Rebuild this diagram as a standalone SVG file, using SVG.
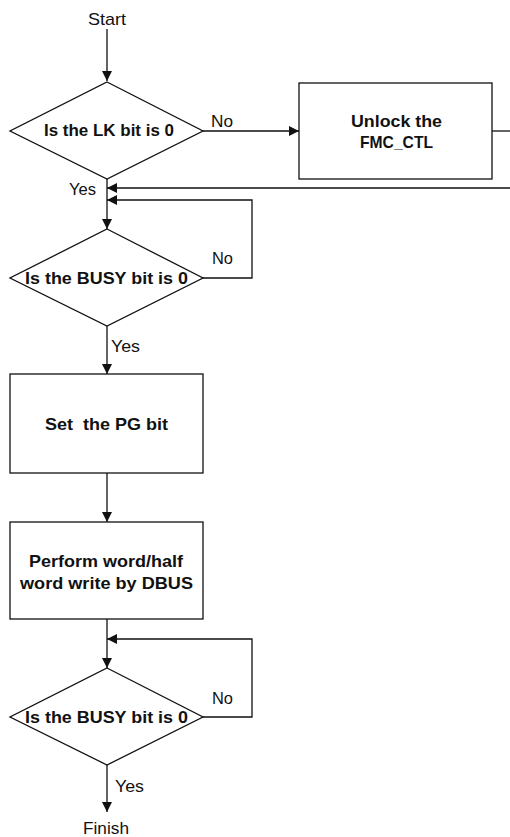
<svg xmlns="http://www.w3.org/2000/svg" width="510" height="837" viewBox="0 0 510 837">
<defs>
<marker id="ah" viewBox="0 0 10 10" refX="10" refY="5" markerWidth="10" markerHeight="10" markerUnits="userSpaceOnUse" orient="auto">
<path d="M0,0 L10,5 L0,10 z" fill="#111"/>
</marker>
<style>
.sh{fill:#fff;stroke:#111;stroke-width:1.3}
.c{fill:none;stroke:#111;stroke-width:1.3}
.ca{fill:none;stroke:#111;stroke-width:1.3;marker-end:url(#ah)}
.b{font-family:"Liberation Sans",Arial,sans-serif;font-weight:bold;font-size:17px;fill:#111;white-space:pre}
.t{font-family:"Liberation Sans",Arial,sans-serif;font-size:17px;fill:#111}
.m{text-anchor:middle}
</style>
</defs>
<rect width="510" height="837" fill="#fff"/>
<g id="connectors">
<line class="ca" x1="107" y1="29" x2="107" y2="81"/>
<line class="ca" x1="203" y1="131" x2="299" y2="131"/>
<line class="c" x1="492" y1="131" x2="510" y2="131"/>
<line class="ca" x1="510" y1="188" x2="107" y2="188"/>
<line class="ca" x1="107" y1="179" x2="107" y2="229"/>
<polyline class="ca" points="203,278 252,278 252,200 107,200"/>
<line class="ca" x1="107" y1="326" x2="107" y2="374"/>
<line class="ca" x1="107" y1="473" x2="107" y2="522"/>
<line class="ca" x1="107" y1="619" x2="107" y2="668"/>
<polyline class="ca" points="203,717 252,717 252,639 107,639"/>
<line class="ca" x1="107" y1="765" x2="107" y2="812"/>
<text class="t" x="211" y="127" textLength="22" lengthAdjust="spacingAndGlyphs">No</text>
<text class="t" x="69" y="195" textLength="27" lengthAdjust="spacingAndGlyphs">Yes</text>
<text class="t" x="212" y="264" textLength="21" lengthAdjust="spacingAndGlyphs">No</text>
<text class="t" x="111" y="352" textLength="29" lengthAdjust="spacingAndGlyphs">Yes</text>
<text class="t" x="212" y="704" textLength="21" lengthAdjust="spacingAndGlyphs">No</text>
<text class="t" x="115" y="792" textLength="29" lengthAdjust="spacingAndGlyphs">Yes</text>
</g>
<g id="start">
<text class="t m" x="107" y="25" textLength="38" lengthAdjust="spacingAndGlyphs">Start</text>
</g>
<g id="lk-decision">
<polygon class="sh" points="107,82 203,131 107,179 10,131"/>
<text class="b" x="44" y="136" textLength="130" lengthAdjust="spacingAndGlyphs">Is the LK bit is 0</text>
</g>
<g id="unlock">
<rect class="sh" x="299" y="83" width="193" height="96"/>
<text class="b" x="351" y="127" textLength="91" lengthAdjust="spacingAndGlyphs">Unlock the</text>
<text class="b" x="360" y="148" textLength="73" lengthAdjust="spacingAndGlyphs">FMC_CTL</text>
</g>
<g id="busy1">
<polygon class="sh" points="107,229 203,278 107,326 10,278"/>
<text class="b" x="25" y="284" textLength="163" lengthAdjust="spacingAndGlyphs">Is the BUSY bit is 0</text>
</g>
<g id="setpg">
<rect class="sh" x="10" y="374" width="193" height="99"/>
<text class="b" x="45" y="430" textLength="123" lengthAdjust="spacingAndGlyphs" xml:space="preserve">Set  the PG bit</text>
</g>
<g id="write">
<rect class="sh" x="10" y="522" width="193" height="97"/>
<text class="b" x="29" y="567" textLength="154" lengthAdjust="spacingAndGlyphs">Perform word/half</text>
<text class="b" x="20" y="589" textLength="173" lengthAdjust="spacingAndGlyphs">word write by DBUS</text>
</g>
<g id="busy2">
<polygon class="sh" points="107,668 203,717 107,765 10,717"/>
<text class="b" x="25" y="723" textLength="163" lengthAdjust="spacingAndGlyphs">Is the BUSY bit is 0</text>
</g>
<g id="finish">
<text class="t m" x="106" y="834" textLength="46" lengthAdjust="spacingAndGlyphs">Finish</text>
</g>
</svg>
